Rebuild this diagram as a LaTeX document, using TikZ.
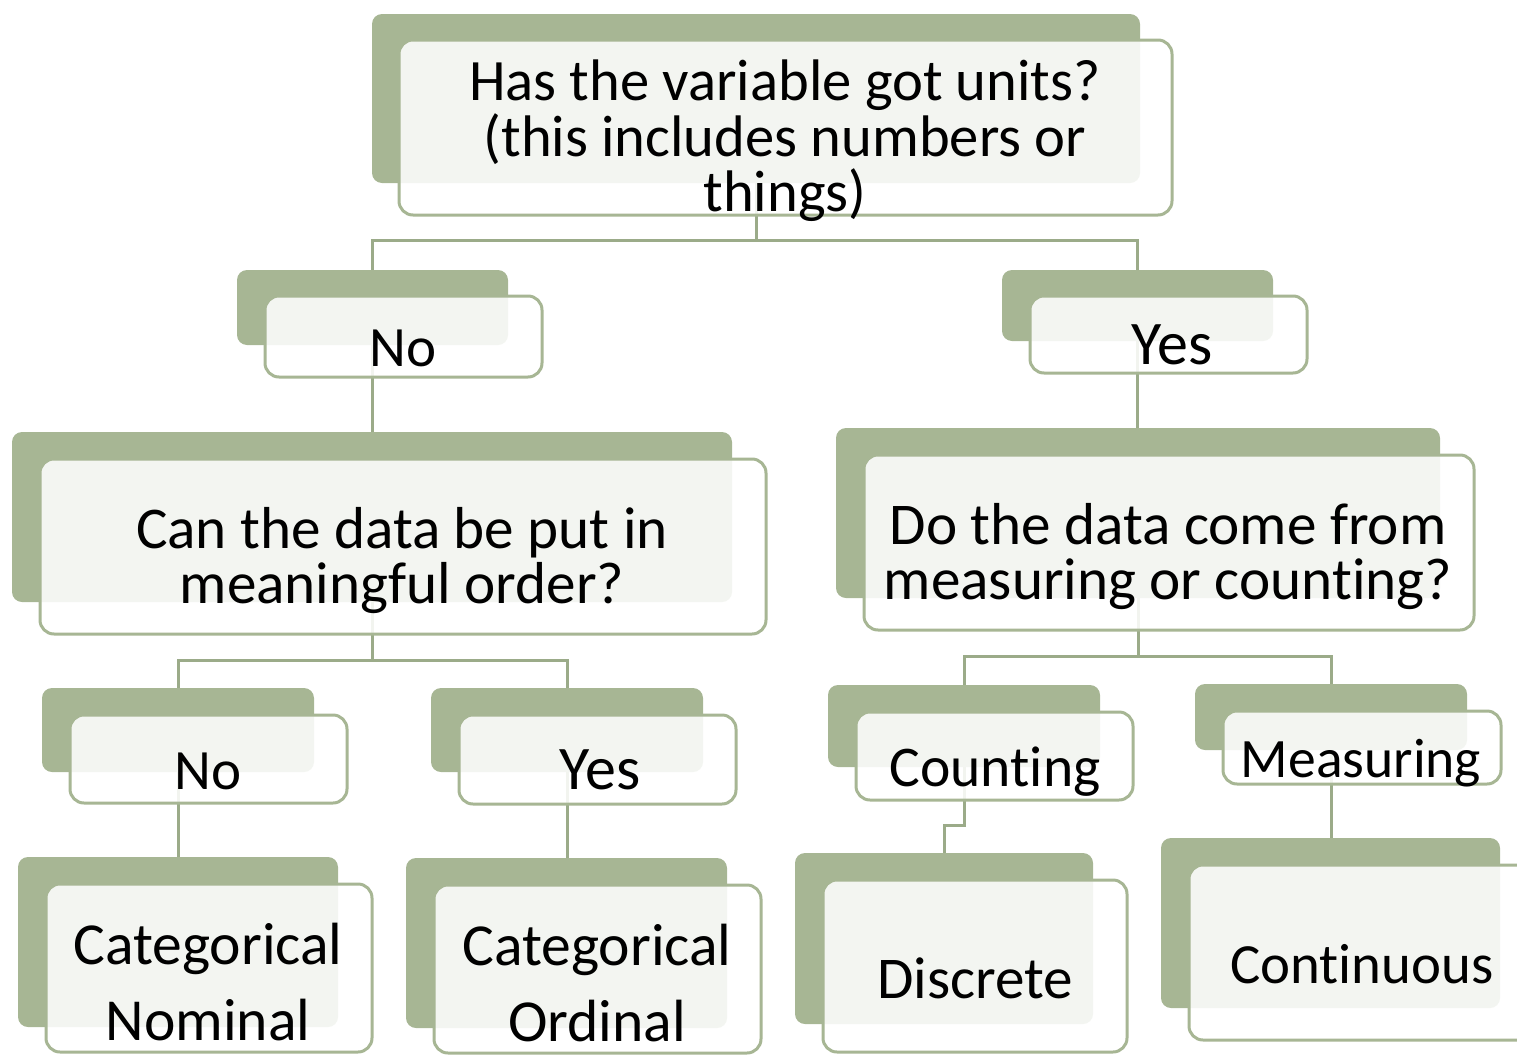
\documentclass[tikz,border=0pt]{standalone}
\usepackage{fontspec}
\setmainfont{Carlito}[Ligatures={NoCommon}]
\usetikzlibrary{fit}
\definecolor{sage}{HTML}{A7B694}
\definecolor{linkgreen}{HTML}{9BAB89}
\pgfdeclarelayer{bg}
\pgfsetlayers{bg,main}
\tikzset{
  backbox/.style={fill=sage, draw=none, rounded corners=5pt, inner sep=0pt},
  frontbox/.style={fill=white, fill opacity=0.87, draw=sage, line width=1.5pt,
                   rounded corners=7pt, inner sep=0pt},
  link/.style={draw=linkgreen, line width=1.5pt},
  txt/.style={text=black, inner sep=0pt, anchor=base},
  fs/.style={font=\fontsize{#1}{#1}\selectfont},
}
% a card: sage backing plate plus a lighter, outlined front panel
\newcommand\card[9]{%
  \node[backbox, fit={(#2,#3)(#4,#5)}] (#1B) {};
  \node[frontbox, fit={(#6,#7)(#8,#9)}] (#1) {};
}
\begin{document}
\begin{tikzpicture}[x=0.5pt, y=-0.5pt]
\useasboundingbox (0,0) rectangle (1517,1055);

\card{top}{372}{14}{1140}{183}{399}{40}{1172}{215}
\card{noA}{237}{270}{508}{345}{265}{296}{542}{377}
\card{yesA}{1002}{270}{1273}{341}{1030}{296}{1307}{373}
\card{order}{12}{432}{732}{602}{40}{459}{766}{634}
\card{source}{836}{428}{1440}{598}{864}{455}{1474}{630}
\card{noB}{42}{688}{314}{772}{70}{715}{347}{803}
\card{yesB}{431}{688}{703}{772}{459}{715}{736}{804}
\card{cnt}{828}{685}{1100}{767}{856}{712}{1133}{800}
\card{msr}{1195}{684}{1467}{750}{1223}{711}{1501}{784}
\card{nom}{18}{857}{338}{1027}{46}{884}{372}{1052}
\card{ordl}{406}{858}{727}{1028}{434}{885}{761}{1053}
\card{disc}{795}{853}{1093}{1024}{823}{880}{1127}{1052}
\card{cont}{1161}{838}{1500}{1008}{1189}{865}{1540}{1040}

% texts
\node[txt, fs=29.3] (topT1) at (785,100) {Has the variable got units?};
\node[txt, fs=29.3] (topT2) at (785,156) {(this includes numbers or};
\node[txt, fs=29.3] (topT3) at (785,211) {things)};
\node[txt, fs=28.5] (noAT) at (403,366) {No};
\node[txt, fs=31] (yesAT) at (1172,364) {Yes};
\node[txt, fs=29.6] (orderT1) at (402,548) {Can the data be put in};
\node[txt, fs=29.6] (orderT2) at (402,603) {meaningful order?};
\node[txt, fs=29.6] (sourceT1) at (1168,544) {Do the data come from};
\node[txt, fs=29.6] (sourceT2) at (1168,599) {measuring or counting?};
\node[txt, fs=28.5] (noBT) at (208,789) {No};
\node[txt, fs=31] (yesBT) at (600,789) {Yes};
\node[txt, fs=28.8] (cntT) at (995,786) {Counting};
\node[txt, fs=27.8] (msrT) at (1361,777) {Measuring};
\node[txt, fs=29.8] (nomT1) at (208,964) {Categorical};
\node[txt, fs=29.8] (nomT2) at (208,1040) {Nominal};
\node[txt, fs=29.8] (ordlT1) at (597,965) {Categorical};
\node[txt, fs=29.8] (ordlT2) at (597,1041) {Ordinal};
\node[txt, fs=29.6] (discT) at (975,998) {Discrete};
\node[txt, fs=28.4] (contT) at (1362,983) {Continuous};

% connectors run behind the cards
\begin{pgfonlayer}{bg}
\draw[link] (topB.center) -- (topB.center |- 0,240) -| (noAB.center);
\draw[link] (topB.center) -- (topB.center |- 0,240) -| (yesAB.center);
\draw[link] (noAB.center) -- (noAB.center |- orderB.center);
\draw[link] (yesAB.center) -- (yesAB.center |- sourceB.center);
\draw[link] (orderB.center) -- (orderB.center |- 0,660) -| (noBB.center);
\draw[link] (orderB.center) -- (orderB.center |- 0,660) -| (yesBB.center);
\draw[link] (sourceB.center) -- (sourceB.center |- 0,656) -| (cntB.center);
\draw[link] (sourceB.center) -- (sourceB.center |- 0,656) -| (msrB.center);
\draw[link] (noBB.center) -- (noBB.center |- nomB.center);
\draw[link] (yesBB.center) -- (yesBB.center |- ordlB.center);
\draw[link] (cntB.center) -- (cntB.center |- 0,825) -| (discB.center);
\draw[link] (msrB.center) -- (msrB.center |- contB.center);
\end{pgfonlayer}
\end{tikzpicture}
\end{document}
